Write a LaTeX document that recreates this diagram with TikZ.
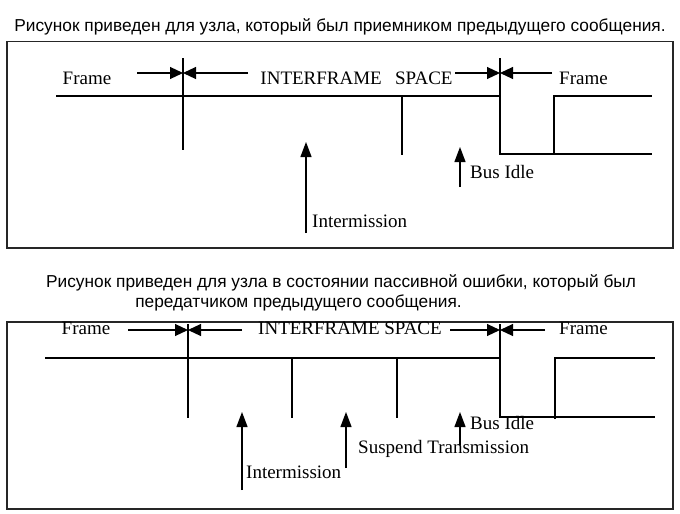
\documentclass[tikz,border=0pt]{standalone}
\usepackage{fontspec}
\setmainfont{Liberation Serif}
\newfontfamily\titlefont{Liberation Sans}
\usetikzlibrary{arrows.meta}
\begin{document}
\begin{tikzpicture}[x=1pt,y=-1pt,
  wire/.style={line width=1.3pt},
  frame box/.style={line width=1.6pt, draw=black!85},
  bow/.style={line width=1.1pt,-{Triangle[length=13pt,width=12pt]}},
  up/.style={line width=1.3pt,-{Triangle[length=15pt,width=11pt]}},
  ttl/.style={font=\titlefont\fontsize{17.3}{20}\selectfont, inner sep=0pt},
  lbl/.style={font=\fontsize{19}{22}\selectfont, inner sep=0pt}]
\useasboundingbox (0,0) rectangle (680,514);
\fill[white] (0,0) rectangle (680,514);

% ---------------- top panel ----------------
\node[ttl, anchor=base] (t1) at (340,31.5) {Рисунок приведен для узла, который был приемником предыдущего сообщения.};
\draw[frame box] (7,41.5) rectangle (673,248);

\node[lbl, anchor=base] (fa) at (87,84) {Frame};
\node[lbl, anchor=base] (isa) at (356.5,84) {INTERFRAME\hspace{0.7em}SPACE};
\node[lbl, anchor=base] (fb) at (583.5,84) {Frame};

\coordinate (a1s) at (137,73);
\coordinate (a1t) at (183,73);
\coordinate (a2s) at (248,73);
\coordinate (a3s) at (455,73);
\coordinate (a3t) at (500,73);
\coordinate (a4s) at (552,73);
\draw[bow] (a1s) -- (a1t);
\draw[bow] (a2s) -- (a1t);
\draw[bow] (a3s) -- (a3t);
\draw[bow] (a4s) -- (a3t);

\coordinate (v1t) at (183,58);
\coordinate (v1b) at (183,150);
\coordinate (v2t) at (500,58);
\draw[wire] (v1t) -- (v1b);
\draw[wire] (56,96) -- (500,96);
\draw[wire] (v2t) -- (500,154) -- (652,154);
\draw[wire] (554,154) -- (554,96) -- (652,96);
\draw[wire] (402,96) -- (402,155);

\node[lbl, anchor=base west] (ima) at (312,227) {Intermission};
\node[lbl, anchor=base west] (bia) at (470,178) {Bus Idle};
\coordinate (ua1) at (306,233);
\coordinate (ua1t) at (306,142);
\coordinate (ub1) at (460,187);
\coordinate (ub1t) at (460,147);
\draw[up] (ua1) -- (ua1t);
\draw[up] (ub1) -- (ub1t);

% ---------------- bottom panel ----------------
\node[ttl, anchor=base] (t2) at (341,287.5) {Рисунок приведен для узла в состоянии пассивной ошибки, который был};
\node[ttl, anchor=base] (t3) at (298.5,307) {передатчиком предыдущего сообщения.};
\draw[frame box] (7,322) rectangle (673,509);

\node[lbl, anchor=base] (fc) at (86,334.5) {Frame};
\node[lbl, anchor=base] (isb) at (350,334.5) {INTERFRAME SPACE};
\node[lbl, anchor=base] (fd) at (583.5,334.5) {Frame};

\coordinate (b1s) at (128,330);
\coordinate (b1t) at (188,330);
\coordinate (b2s) at (242,330);
\coordinate (b3s) at (450,330);
\coordinate (b3t) at (500,330);
\coordinate (b4s) at (545,330);
\draw[bow] (b1s) -- (b1t);
\draw[bow] (b2s) -- (b1t);
\draw[bow] (b3s) -- (b3t);
\draw[bow] (b4s) -- (b3t);

\draw[wire] (188,324) -- (188,418);
\draw[wire] (45,358) -- (500,358);
\draw[wire] (500,324) -- (500,417) -- (655,417);
\draw[wire] (555,419) -- (555,358) -- (655,358);
\draw[wire] (292,358) -- (292,418);
\draw[wire] (397,358) -- (397,418);

\node[lbl, anchor=base west] (imb) at (246,478) {Intermission};
\node[lbl, anchor=base west] (stb) at (358,453) {Suspend Transmission};
\node[lbl, anchor=base west] (bib) at (470,429) {Bus Idle};
\coordinate (uc1) at (242,490);
\coordinate (uc1t) at (242,412);
\coordinate (ud1) at (346,468);
\coordinate (ud1t) at (346,412);
\coordinate (ue1) at (460,445);
\coordinate (ue1t) at (460,412);
\draw[up] (uc1) -- (uc1t);
\draw[up] (ud1) -- (ud1t);
\draw[up] (ue1) -- (ue1t);
\end{tikzpicture}
\end{document}
